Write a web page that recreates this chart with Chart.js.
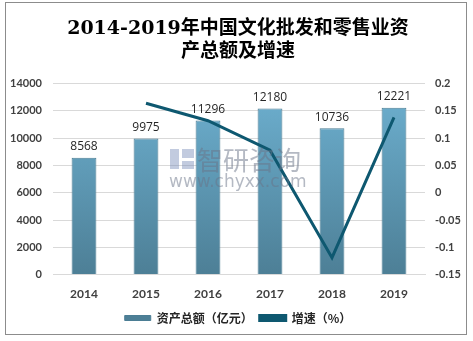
<!DOCTYPE html>
<html>
<head>
  <meta charset="UTF-8">
  <title>2014-2019年中国文化批发和零售业资产总额及增速</title>
  <script src="https://cdn.jsdelivr.net/npm/chart.js"></script>
  <style>
    html, body {
      margin: 0;
      padding: 0;
      background: #ffffff;
    }
    #frame {
      position: absolute;
      left: 5px;
      top: 2px;
      width: 462px;
      height: 333px;
      border: 1px solid #8c8c8c;
      box-sizing: border-box;
    }
    #wrap {
      position: absolute;
      left: 6px;
      top: 3px;
      width: 460px;
      height: 331px;
    }
  </style>
</head>
<body>
  <div id="frame"></div>
  <div id="wrap"><canvas id="chart"></canvas></div>

  <script>
    const years = ['2014', '2015', '2016', '2017', '2018', '2019'];
    const assets = [8568, 9975, 11296, 12180, 10736, 12221];
    const growth = [null, 0.164, 0.132, 0.078, -0.119, 0.138];
    const leftTicks = [0, 2000, 4000, 6000, 8000, 10000, 12000, 14000];
    const rightTicks = [-0.15, -0.1, -0.05, 0, 0.05, 0.1, 0.15, 0.2];

    const tickFont = { family: 'Lato, "Noto Sans CJK SC", sans-serif', size: 11, weight: 'bold' };

    function barGradient(context) {
      const area = context.chart.chartArea;
      if (!area) return '#5b97b4';
      const g = context.chart.ctx.createLinearGradient(0, area.top, 0, area.bottom);
      g.addColorStop(0, '#6eb1d1');
      g.addColorStop(1, '#4d7f96');
      return g;
    }

    // watermark drawn over the marks, then the numbers above the bars
    const overlay = {
      id: 'overlay',
      afterDatasetsDraw(chart) {
        const ctx = chart.ctx;
        ctx.save();
        ctx.fillStyle = 'rgba(105,115,135,0.5)';
        ctx.textAlign = 'left';
        ctx.textBaseline = 'middle';
        ctx.font = '26px "Noto Sans CJK SC", sans-serif';
        ctx.fillText('智研咨询', 191, 157);
        ctx.font = '17px "DejaVu Sans", sans-serif';
        ctx.fillText('www.chyxx.com', 163, 180);
        ctx.fillStyle = 'rgba(120,140,185,0.45)';
        ctx.fillRect(164, 146, 9, 20);
        ctx.fillRect(176, 146, 12, 9);
        ctx.fillRect(176, 158, 12, 8);
        ctx.restore();

        const meta = chart.getDatasetMeta(1);
        ctx.save();
        ctx.font = '12px "Open Sans", "Noto Sans CJK SC", sans-serif';
        ctx.fillStyle = '#262626';
        ctx.textAlign = 'center';
        ctx.textBaseline = 'bottom';
        meta.data.forEach((bar, i) => {
          ctx.fillText(String(assets[i]), bar.x, bar.y - 5);
        });
        ctx.restore();
      }
    };

    const ctx = document.getElementById('chart').getContext('2d');
    new Chart(ctx, {
      data: {
        labels: years,
        datasets: [
          {
            type: 'line',
            label: '增速（%）',
            data: growth,
            yAxisID: 'y1',
            borderColor: '#0e5870',
            backgroundColor: '#0e5870',
            borderWidth: 3,
            pointRadius: 0,
            tension: 0,
            order: 0
          },
          {
            type: 'bar',
            label: '资产总额（亿元）',
            data: assets,
            yAxisID: 'y',
            backgroundColor: barGradient,
            borderColor: '#4b7d94',
            borderWidth: 1,
            categoryPercentage: 0.8,
            barPercentage: 0.5,
            order: 1
          }
        ]
      },
      options: {
        responsive: true,
        maintainAspectRatio: false,
        animation: false,
        layout: { padding: { left: 4, right: 0, top: 2, bottom: 0 } },
        plugins: {
          title: {
            display: true,
            text: ['2014-2019年中国文化批发和零售业资', '产总额及增速'],
            font: { family: '"DejaVu Serif", "Noto Sans CJK SC", serif', size: 19, weight: 'bold' },
            color: '#000000',
            padding: { top: 13, bottom: 20 },
            lineHeight: 1.15
          },
          legend: {
            position: 'bottom',
            reverse: true,
            labels: {
              boxWidth: 26,
              boxHeight: 5,
              color: '#262626',
              padding: 7,
              font: { family: '"Noto Sans CJK SC", sans-serif', size: 12, weight: 'bold' }
            }
          },
          tooltip: { enabled: false }
        },
        scales: {
          x: {
            grid: { display: false },
            border: { color: '#d9d9d9' },
            ticks: { color: '#404040', font: { ...tickFont, size: 12 }, padding: 4 }
          },
          y: {
            position: 'left',
            min: 0,
            max: 14000,
            afterBuildTicks(axis) { axis.ticks = leftTicks.map(v => ({ value: v })); },
            afterFit(axis) { axis.width = 43; },
            grid: { color: '#d9d9d9', drawTicks: false },
            border: { display: false },
            ticks: { color: '#404040', font: tickFont, padding: 11, callback: v => String(v) }
          },
          y1: {
            position: 'right',
            min: -0.15,
            max: 0.2,
            afterBuildTicks(axis) { axis.ticks = rightTicks.map(v => ({ value: v })); },
            afterFit(axis) { axis.width = 41; },
            grid: { display: false, drawTicks: false },
            border: { display: false },
            ticks: {
              color: '#404040',
              font: tickFont,
              padding: 10,
              callback: v => String(Number(v.toFixed(2)))
            }
          }
        }
      },
      plugins: [overlay]
    });
  </script>
</body>
</html>
